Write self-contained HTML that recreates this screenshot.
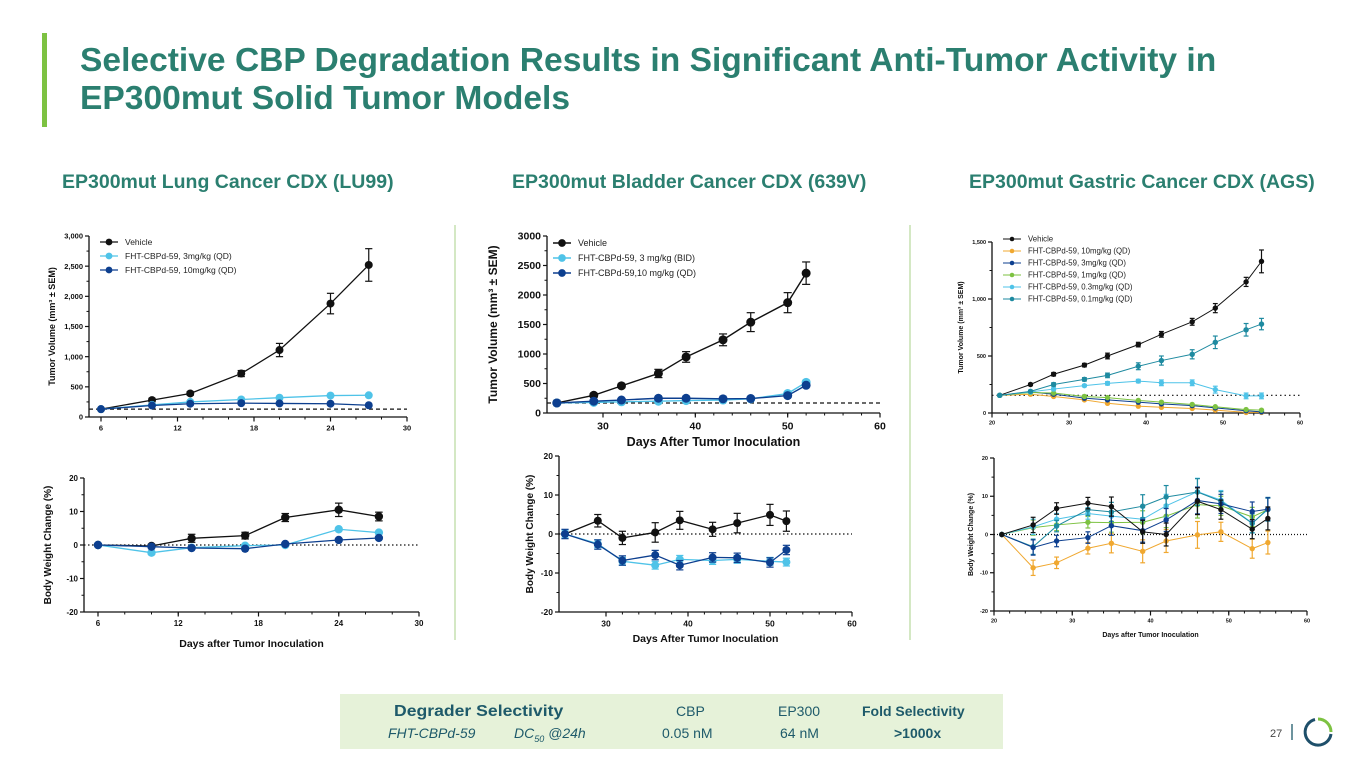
<!DOCTYPE html>
<html><head><meta charset="utf-8"><title>Selective CBP Degradation</title>
<style>
html,body{margin:0;padding:0;background:#fff;}
body{width:1365px;height:768px;overflow:hidden;position:relative;font-family:"Liberation Sans",Arial,sans-serif;}
#title{position:absolute;left:80px;top:42px;font-size:33.6px;font-weight:bold;color:#2b7f70;line-height:38px;margin:0;white-space:nowrap;}
#bar{position:absolute;left:42px;top:33px;width:5px;height:94px;background:#7dc242;}
.sec{position:absolute;top:171px;font-size:19.5px;font-weight:bold;color:#2b7f70;white-space:nowrap;}
#tbl{position:absolute;left:340px;top:694px;width:663px;height:55px;background:#e6f2d9;color:#1e5a6a;}
#tbl div{position:absolute;white-space:nowrap;font-size:14px;text-align:center;}
svg{position:absolute;left:0;top:0;}
</style></head>
<body>
<div id="bar"></div>
<h1 id="title">Selective CBP Degradation Results in Significant Anti-Tumor Activity in<br>EP300mut Solid Tumor Models</h1>
<div class="sec" style="left:62px">EP300mut Lung Cancer CDX (LU99)</div>
<div class="sec" style="left:512px">EP300mut Bladder Cancer CDX (639V)</div>
<div class="sec" style="left:969px">EP300mut Gastric Cancer CDX (AGS)</div>
<div id="tbl">
 <div style="left:54px;top:9px;font-weight:bold;font-size:16px;transform:scaleX(1.1);transform-origin:left">Degrader Selectivity</div>
 <div style="left:48px;top:31px;font-style:italic">FHT-CBPd-59</div>
 <div style="left:174px;top:31px;font-style:italic">DC<sub style="font-size:9px">50</sub> @24h</div>
 <div style="left:336px;top:9px">CBP</div>
 <div style="left:322px;top:31px">0.05 nM</div>
 <div style="left:438px;top:9px">EP300</div>
 <div style="left:440px;top:31px">64 nM</div>
 <div style="left:522px;top:9px;font-weight:bold">Fold Selectivity</div>
 <div style="left:554px;top:31px;font-weight:bold">&gt;1000x</div>
</div>
<svg id="s" width="1365" height="768"></svg>
<script>
// ---------- Data ----------
const luDays=[6,10,13,17,20,24,27];
const luTvVehicle=[130,280,390,720,1110,1880,2520];
const luTvVehicleErr=[0,30,30,50,110,170,270];
const luTv3=[130,200,250,290,320,355,360];
const luTv10=[130,190,220,230,225,220,195];
const luBwVehicle=[0,-0.3,2,2.8,8.2,10.5,8.5];
const luBwVehicleErr=[0,0.5,1.2,1,1.2,2,1.3];
const luBw3=[0,-2.3,-0.8,-0.2,0,4.7,3.7];
const luBw10=[0,-0.5,-0.9,-1.1,0.3,1.5,2.1];
const luTvTicks=[0,500,1000,1500,2000,2500,3000];
const luTvTickLabels=["0","500","1,000","1,500","2,000","2,500","3,000"];
const luXTicks=[6,12,18,24,30];

const blDays=[25,29,32,36,39,43,46,50,52];
const blTvVehicle=[170,300,460,670,950,1240,1540,1870,2370];
const blTvVehicleErr=[0,30,30,70,90,100,160,170,190];
const blTv3=[170,180,190,200,210,220,240,330,520];
const blTv10=[170,200,220,250,250,240,245,295,470];
const blBwVehicle=[0,3.4,-1,0.4,3.5,1.2,2.8,4.9,3.3];
const blBwVehicleErr=[0,1.6,1.7,2.5,2.3,1.8,2.5,2.7,2.6];
const blBw3=[0,-2.5,-7,-8,-6.5,-6.8,-6.5,-7,-7.2];
const blBw10=[0,-2.7,-6.8,-5.4,-8,-6,-6.1,-7.3,-4.1];
const blTvTicks=[0,500,1000,1500,2000,2500,3000];
const blXTicks=[30,40,50,60];

const gaDays=[21,25,28,32,35,39,42,46,49,53,55];
const gaTvVehicle=[155,250,340,420,500,600,690,800,920,1150,1330];
const gaTvVehicleErr=[0,10,15,15,25,20,25,30,40,40,100];
const gaTv01=[155,190,250,295,330,410,460,515,620,730,780];
const gaTv01Err=[0,10,15,15,20,30,40,40,55,55,50];
const gaTv03=[155,185,210,240,260,280,265,265,205,150,150];
const gaTv03Err=[0,10,10,10,15,15,25,25,30,25,25];
const gaTv1=[155,180,175,145,135,110,95,75,55,30,25];
const gaTv3=[155,185,165,130,115,95,80,65,45,20,10];
const gaTv10=[155,165,145,115,85,60,50,40,25,5,5];
const gaBwVehicle=[0,2.5,6.8,8.2,7.3,0.7,0,8.7,6.5,1.4,4.2];
const gaBw10=[0,-8.7,-7.4,-3.6,-2.3,-4.4,-1.7,-0.1,0.7,-3.7,-2.1];
const gaBw3=[0,-3.4,-1.7,-0.8,2.3,1,3.8,8.9,8,6,6.6];
const gaBw1=[0,1.8,2.5,3.2,3.1,3.2,4.8,7.8,7.5,4.6,6.5];
const gaBw03=[0,2,4,5.5,4.8,4,7.5,11.2,9,3,6.5];
const gaBw01=[0,-3.2,2.2,6.5,5.9,7.4,9.8,11.1,8.7,2.9,6.7];
const gaBwErr=[0,2,1.5,1.5,2.5,3,3,3.5,2.5,2.5,3];
const gaTvTicks=[0,500,1000,1500];
const gaTvTickLabels=["0","500","1,000","1,500"];
const gaXTicks=[20,30,40,50,60];
const bwTicks=[-20,-10,0,10,20];

const C={black:"#111",light:"#4fc3e8",navy:"#0d3f8f",orange:"#f0a830",green:"#7dc242",teal:"#1e8aa0"};
const svg=document.getElementById('s');
const NS='http://www.w3.org/2000/svg';
function mk(tag,a,p){const e=document.createElementNS(NS,tag);for(const k in a)e.setAttribute(k,a[k]);(p||svg).appendChild(e);return e;}

function chart(c){
  const g=mk('g',{});
  
  
  const sx=d=>c.px0+(d-c.dx0)/(c.dx1-c.dx0)*(c.px1-c.px0);
  const sy=v=>c.py0+(v-c.vy0)/(c.vy1-c.vy0)*(c.py1-c.py0);
  const xEnd=sx(c.xTicks[c.xTicks.length-1]);
  const yB=sy(c.vy0), yT=sy(c.vy1);
  const ya=mk('line',{x1:c.axX,x2:c.axX,y1:yB,y2:yT,stroke:'#111','stroke-width':1.3},g);
  
  
  const xa=mk('line',{x1:c.axX,x2:xEnd,y1:yB,y2:yB,stroke:'#111','stroke-width':1.3},g);
  
  
  c.yTicks.forEach((v,i)=>{
    mk('line',{x1:c.axX-4,x2:c.axX,y1:sy(v),y2:sy(v),stroke:'#111','stroke-width':1.2},g);
    const t=mk('text',{x:c.axX-6,y:sy(v)+c.fs*0.35,'font-size':c.fs,'font-weight':'bold','text-anchor':'end',fill:'#111'},g);
    t.textContent=c.yLabels?c.yLabels[i]:String(v);
    
    
    if(i<c.yTicks.length-1){const m=(v+c.yTicks[i+1])/2;mk('line',{x1:c.axX-2.5,x2:c.axX,y1:sy(m),y2:sy(m),stroke:'#111','stroke-width':1},g);}
  });
  const xs=c.xTicks;
  for(let d=xs[0]-c.minor*Math.floor((xs[0]-c.dx0)/c.minor);d<=xs[xs.length-1];d+=c.minor){
    if(sx(d)<c.axX-0.5)continue;
    mk('line',{x1:sx(d),x2:sx(d),y1:yB,y2:yB+2.5,stroke:'#111','stroke-width':1},g);
  }
  xs.forEach(d=>{
    mk('line',{x1:sx(d),x2:sx(d),y1:yB,y2:yB+4.5,stroke:'#111','stroke-width':1.2},g);
    const t=mk('text',{x:sx(d),y:yB+6+c.fs,'font-size':c.fs,'font-weight':'bold','text-anchor':'middle',fill:'#111'},g);
    t.textContent=String(d);
    
    
  });
  if(c.ref!==undefined){
    const r=mk('line',{x1:c.axX,x2:xEnd,y1:sy(c.ref),y2:sy(c.ref),stroke:'#111','stroke-width':1.2,'stroke-dasharray':c.refDash},g);
    
    
  }
  c.series.forEach(s=>{
    const sg=mk('g',{},g);
    
    
    mk('polyline',{points:c.days.map((d,i)=>sx(d)+','+sy(s.v[i])).join(' '),fill:'none',stroke:s.col,'stroke-width':c.lw},sg);
    if(s.err)c.days.forEach((d,i)=>{const e=s.err[i];if(!e)return;const x=sx(d);
      mk('line',{x1:x,x2:x,y1:sy(s.v[i]-e),y2:sy(s.v[i]+e),stroke:s.col,'stroke-width':1.2},sg);
      [s.v[i]-e,s.v[i]+e].forEach(v=>mk('line',{x1:x-c.r*0.9,x2:x+c.r*0.9,y1:sy(v),y2:sy(v),stroke:s.col,'stroke-width':1.2},sg));});
    c.days.forEach((d,i)=>{mk('circle',{cx:sx(d),cy:sy(s.v[i]),r:c.r,fill:s.col},sg);});
  });
  if(c.legend){c.series.forEach((s,i)=>{
    const y=c.legY+i*c.legDy;
    mk('line',{x1:c.legX,x2:c.legX+18,y1:y,y2:y,stroke:s.col,'stroke-width':c.lw},g);
    mk('circle',{cx:c.legX+9,cy:y,r:c.r*0.85,fill:s.col},g);
    const t=mk('text',{x:c.legX+25,y:y+c.legFs*0.35,'font-size':c.legFs,fill:'#222'},g);
    t.textContent=s.label;
    
    
  });}
  const my=(yB+yT)/2;
  const yt=mk('text',{x:c.yTitleX,y:my,'font-size':c.titleFs,'font-weight':'bold','text-anchor':'middle',fill:'#111',transform:`rotate(-90 ${c.yTitleX} ${my})`},g);
  yt.textContent=c.yTitle;
  
  
  if(c.xTitle){const xt=mk('text',{x:(c.axX+xEnd)/2,y:c.xTitleY,'font-size':c.xTitleFs,'font-weight':'bold','text-anchor':'middle',fill:'#111'},g);
    xt.textContent=c.xTitle;
    
    }
}

// separators
[455,910].forEach(x=>{const l=mk('line',{x1:x,x2:x,y1:225,y2:640,stroke:'#d4e8c4','stroke-width':2});
  
  });

const TV="Tumor Volume (mm³ ± SEM)";
chart({name:'lung-tumor-volume-chart',days:luDays,px0:101,px1:407,dx0:6,dx1:30,py0:417,py1:236,vy0:0,vy1:3000,axX:89,
  xTicks:luXTicks,minor:2,yTicks:luTvTicks,yLabels:luTvTickLabels,fs:7.5,lw:1.3,r:4,ref:130,refDash:'4,3',
  series:[{name:'series-vehicle',label:'Vehicle',v:luTvVehicle,err:luTvVehicleErr,col:C.black},
          {name:'series-3mg',label:'FHT-CBPd-59, 3mg/kg (QD)',v:luTv3,col:C.light},
          {name:'series-10mg',label:'FHT-CBPd-59, 10mg/kg (QD)',v:luTv10,col:C.navy}],
  legend:true,legX:100,legY:242,legDy:14,legFs:8.5,yTitle:TV,yTitleX:55,titleFs:9});
chart({name:'lung-body-weight-chart',days:luDays,px0:98,px1:419,dx0:6,dx1:30,py0:612,py1:478,vy0:-20,vy1:20,axX:84,
  xTicks:luXTicks,minor:2,yTicks:bwTicks,fs:8,lw:1.3,r:4.2,ref:0,refDash:'1.5,2.5',
  series:[{name:'series-vehicle',v:luBwVehicle,err:luBwVehicleErr,col:C.black},
          {name:'series-3mg',v:luBw3,col:C.light},
          {name:'series-10mg',v:luBw10,col:C.navy}],
  yTitle:'Body Weight Change (%)',yTitleX:51,titleFs:10,xTitle:'Days after Tumor Inoculation',xTitleY:647,xTitleFs:10.5});
chart({name:'bladder-tumor-volume-chart',days:blDays,px0:603,px1:880,dx0:30,dx1:60,py0:413,py1:236,vy0:0,vy1:3000,axX:547,
  xTicks:blXTicks,minor:2,yTicks:blTvTicks,fs:10.5,lw:1.4,r:4.5,ref:170,refDash:'4,3',
  series:[{name:'series-vehicle',label:'Vehicle',v:blTvVehicle,err:blTvVehicleErr,col:C.black},
          {name:'series-3mg-bid',label:'FHT-CBPd-59, 3 mg/kg (BID)',v:blTv3,col:C.light},
          {name:'series-10mg',label:'FHT-CBPd-59,10 mg/kg (QD)',v:blTv10,col:C.navy}],
  legend:true,legX:553,legY:243,legDy:15,legFs:9,yTitle:TV,yTitleX:497,titleFs:12,xTitle:'Days After Tumor Inoculation',xTitleY:446,xTitleFs:12.5});
chart({name:'bladder-body-weight-chart',days:blDays,px0:606,px1:852,dx0:30,dx1:60,py0:612,py1:456,vy0:-20,vy1:20,axX:559,
  xTicks:blXTicks,minor:2,yTicks:bwTicks,fs:8.5,lw:1.3,r:4,ref:0,refDash:'1.5,2.5',
  series:[{name:'series-vehicle',v:blBwVehicle,err:blBwVehicleErr,col:C.black},
          {name:'series-3mg-bid',v:blBw3,err:blBw3.map(()=>1),col:C.light},
          {name:'series-10mg',v:blBw10,err:blBw10.map(()=>1.2),col:C.navy}],
  yTitle:'Body Weight Change (%)',yTitleX:533,titleFs:10,xTitle:'Days After Tumor Inoculation',xTitleY:642,xTitleFs:10.5});
chart({name:'gastric-tumor-volume-chart',days:gaDays,px0:992,px1:1300,dx0:20,dx1:60,py0:413,py1:242,vy0:0,vy1:1500,axX:992,
  xTicks:gaXTicks,minor:2,yTicks:gaTvTicks,yLabels:gaTvTickLabels,fs:5.5,lw:1,r:2.7,ref:155,refDash:'1.5,3',
  series:[{name:'series-vehicle',label:'Vehicle',v:gaTvVehicle,err:gaTvVehicleErr,col:C.black},
          {name:'series-10mg',label:'FHT-CBPd-59, 10mg/kg (QD)',v:gaTv10,col:C.orange},
          {name:'series-3mg',label:'FHT-CBPd-59, 3mg/kg (QD)',v:gaTv3,col:C.navy},
          {name:'series-1mg',label:'FHT-CBPd-59, 1mg/kg (QD)',v:gaTv1,col:C.green},
          {name:'series-0-3mg',label:'FHT-CBPd-59, 0.3mg/kg (QD)',v:gaTv03,err:gaTv03Err,col:C.light},
          {name:'series-0-1mg',label:'FHT-CBPd-59, 0.1mg/kg (QD)',v:gaTv01,err:gaTv01Err,col:C.teal}],
  legend:true,legX:1003,legY:239,legDy:12,legFs:7.8,yTitle:TV,yTitleX:963,titleFs:7});
chart({name:'gastric-body-weight-chart',days:gaDays,px0:994,px1:1307,dx0:20,dx1:60,py0:611,py1:458,vy0:-20,vy1:20,axX:994,
  xTicks:gaXTicks,minor:2,yTicks:bwTicks,fs:5.5,lw:1,r:2.7,ref:0,refDash:'1,2',
  series:[{name:'series-10mg',v:gaBw10,err:gaBwErr,col:C.orange},
          {name:'series-1mg',v:gaBw1,err:gaBwErr,col:C.green},
          {name:'series-0-3mg',v:gaBw03,err:gaBwErr,col:C.light},
          {name:'series-0-1mg',v:gaBw01,err:gaBwErr,col:C.teal},
          {name:'series-3mg',v:gaBw3,err:gaBwErr,col:C.navy},
          {name:'series-vehicle',v:gaBwVehicle,err:gaBwErr,col:C.black}],
  yTitle:'Body Weight Change (%)',yTitleX:973,titleFs:7,xTitle:'Days after Tumor Inoculation',xTitleY:637,xTitleFs:7});

// footer
const pn=mk('text',{x:1270,y:737,'font-size':11,fill:'#444'});pn.textContent='27';


const sep=mk('line',{x1:1292,x2:1292,y1:724,y2:740,stroke:'#1e5a6a','stroke-width':1.3});


const lg=mk('g',{});


mk('path',{d:'M1318 719 A13 13 0 0 1 1331 732',fill:'none',stroke:'#7dc242','stroke-width':3},lg);
mk('path',{d:'M1331 734 A13 13 0 1 1 1315 719.5',fill:'none',stroke:'#1e4f6a','stroke-width':3},lg);
</script>
</body></html>
